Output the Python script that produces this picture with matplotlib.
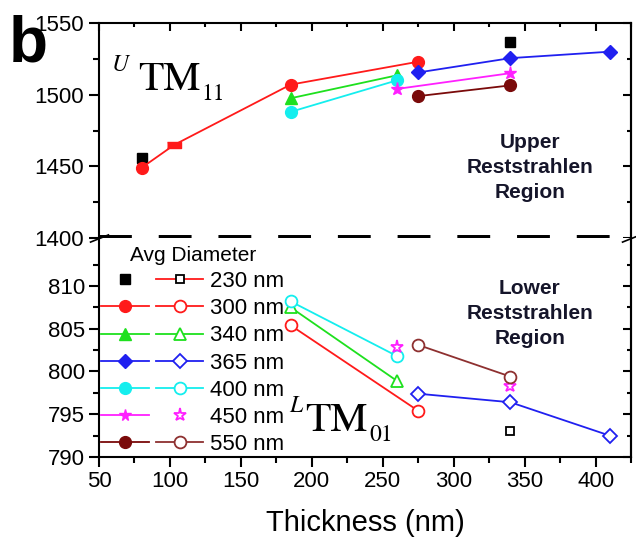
import numpy as np
import matplotlib
matplotlib.use("Agg")
import matplotlib.pyplot as plt
from matplotlib.lines import Line2D
from matplotlib.legend_handler import HandlerTuple
from matplotlib.ticker import MultipleLocator, FixedLocator

plt.rcParams['font.family'] = ['Liberation Sans', 'DejaVu Sans']

# upper Reststrahlen region (filled markers), frequency in cm-1
x_230_up = [80, 340]
y_230_up = [1456, 1537]
x_300_up = [80, 103, 185, 275]
y_300_up = [1449, 1465, 1507, 1523]
x_340_up = [185, 260]
y_340_up = [1497.5, 1513.5]
x_365_up = [275, 340, 410]
y_365_up = [1515.5, 1525.5, 1530]
x_400_up = [185, 260]
y_400_up = [1488, 1510]
x_450_up = [260, 340]
y_450_up = [1504, 1515]
x_550_up = [275, 340]
y_550_up = [1499, 1506.5]

# lower Reststrahlen region (open markers)
x_230_lo = [340]
y_230_lo = [793.0]
x_300_lo = [185, 275]
y_300_lo = [805.4, 795.4]
x_340_lo = [185, 260]
y_340_lo = [807.5, 798.9]
x_365_lo = [275, 340, 410]
y_365_lo = [797.4, 796.4, 792.5]
x_400_lo = [185, 260]
y_400_lo = [808.2, 801.8]
x_450_lo = [260, 340]
y_450_lo = [802.9, 798.3]
x_550_lo = [275, 340]
y_550_lo = [803.1, 799.4]

labels = ['230 nm', '300 nm', '340 nm', '365 nm', '400 nm', '450 nm', '550 nm']

RED = '#ff1a1a'
GREEN = '#1ee01e'
BLUE = '#2020f0'
CYAN = '#14eeee'
MAGENTA = '#ff20ff'
BROWN = '#7a0a0a'
BROWN_OPEN = '#8e3030'

fig = plt.figure(figsize=(6.36, 5.39), dpi=100)
ax_up = fig.add_axes([0.1557, 0.5584, 0.8365, 0.3989])
ax_lo = fig.add_axes([0.1557, 0.1521, 0.8365, 0.4063])

lw = 1.3
ms = 8.5

# ---- upper panel
ax_up.plot(x_230_up, y_230_up, ls='none', marker='s', ms=6.5, color='black')
ax_up.plot(x_300_up, y_300_up, color=RED, lw=lw)
ax_up.plot([x_300_up[i] for i in (0, 2, 3)], [y_300_up[i] for i in (0, 2, 3)],
           ls='none', marker='o', ms=ms, color=RED)
bar = [(-1, -0.45), (1, -0.45), (1, 0.45), (-1, 0.45)]
ax_up.plot(x_300_up[1], y_300_up[1], ls='none', marker=bar, ms=9.5, color=RED)
ax_up.plot(x_340_up, y_340_up, color=GREEN, lw=lw, marker='^', ms=ms)
ax_up.plot(x_400_up, y_400_up, color=CYAN, lw=lw, marker='o', ms=ms)
ax_up.plot(x_450_up, y_450_up, color=MAGENTA, lw=lw, marker='*', ms=ms + 1)
ax_up.plot(x_550_up, y_550_up, color=BROWN, lw=lw, marker='o', ms=ms)
ax_up.plot(x_365_up, y_365_up, color=BLUE, lw=lw, marker='D', ms=7)

# ---- lower panel
ax_lo.plot(x_230_lo, y_230_lo, ls='none', marker='s', ms=5.5, mfc='white', mec='black', mew=1.3)
ax_lo.plot(x_300_lo, y_300_lo, color=RED, lw=lw, marker='o', ms=ms, mfc='white', mew=1.3)
ax_lo.plot(x_340_lo, y_340_lo, color=GREEN, lw=lw, marker='^', ms=ms, mfc='white', mew=1.3)
ax_lo.plot(x_400_lo, y_400_lo, color=CYAN, lw=lw, marker='o', ms=ms, mfc='white', mew=1.3)
ax_lo.plot(x_450_lo, y_450_lo, ls='none', marker='*', ms=ms + 1, mfc='white', mec=MAGENTA, mew=1.3)
ax_lo.plot(x_550_lo, y_550_lo, color=BROWN_OPEN, lw=lw, marker='o', ms=ms, mfc='white', mew=1.3)
ax_lo.plot(x_365_lo, y_365_lo, color=BLUE, lw=lw, marker='D', ms=7, mfc='white', mew=1.3)

# ---- axes styling
for ax in (ax_up, ax_lo):
    ax.set_xlim(50, 425)
    for s in ax.spines.values():
        s.set_linewidth(1.5)
    ax.xaxis.set_major_locator(MultipleLocator(50))
    ax.xaxis.set_minor_locator(MultipleLocator(25))

ax_up.set_ylim(1400, 1550)
ax_up.yaxis.set_major_locator(MultipleLocator(50))
ax_up.yaxis.set_minor_locator(MultipleLocator(25))
ax_lo.set_ylim(790, 815.6)
ax_lo.yaxis.set_major_locator(FixedLocator([790, 795, 800, 805, 810]))
ax_lo.yaxis.set_minor_locator(FixedLocator([792.5, 797.5, 802.5, 807.5, 812.5]))

ax_up.spines['bottom'].set_linestyle((0, (5.5, 4.5)))
ax_up.spines['bottom'].set_linewidth(4.3)
ax_up.spines['bottom'].set_capstyle('butt')
ax_lo.spines['top'].set_visible(False)

ax_up.tick_params(axis='y', which='both', left=True, right=False, direction='out',
                  labelsize=16, width=1.5, pad=4)
ax_up.tick_params(axis='y', which='major', length=7)
ax_up.tick_params(axis='y', which='minor', length=4)
ax_up.tick_params(axis='x', which='both', top=True, bottom=False, labelbottom=False,
                  direction='in', width=1.5)
ax_up.tick_params(axis='x', which='major', length=6)
ax_up.tick_params(axis='x', which='minor', length=3)

ax_lo.tick_params(axis='both', which='both', direction='out', width=1.5, labelsize=16, pad=3)
ax_lo.tick_params(axis='both', which='major', length=7)
ax_lo.tick_params(axis='both', which='minor', length=4)

# inward ticks on the right spine
for ax in (ax_up, ax_lo):
    r = ax.secondary_yaxis('right')
    r.yaxis.set_major_locator(ax.yaxis.get_major_locator())
    r.yaxis.set_minor_locator(ax.yaxis.get_minor_locator())
    r.tick_params(axis='y', which='major', direction='in', labelright=False, width=1.5, length=6)
    r.tick_params(axis='y', which='minor', direction='in', length=3, width=1.5)
    r.spines['right'].set_linewidth(1.5)

ax_lo.set_xlabel('Thickness (nm)', fontsize=21, labelpad=12)

# break marks on both spines
for xa in (0, 1):
    ax_lo.plot([xa], [1.0], transform=ax_lo.transAxes, clip_on=False, ls='none',
               marker=[(-1, -0.4), (1, 0.4)], ms=14, mec='black', mew=1.2)

# ---- legend
filled = [
    Line2D([], [], ls='none', marker='s', ms=6.5, color='black'),
    Line2D([], [], color=RED, lw=lw, marker='o', ms=ms),
    Line2D([], [], color=GREEN, lw=lw, marker='^', ms=ms),
    Line2D([], [], color=BLUE, lw=lw, marker='D', ms=7),
    Line2D([], [], color=CYAN, lw=lw, marker='o', ms=ms),
    Line2D([], [], color=MAGENTA, lw=lw, marker='*', ms=ms),
    Line2D([], [], color=BROWN, lw=lw, marker='o', ms=ms),
]
opened = [
    Line2D([], [], color=RED, lw=lw, marker='s', ms=5.5, mfc='white', mec='black', mew=1.3),
    Line2D([], [], color=RED, lw=lw, marker='o', ms=ms, mfc='white', mew=1.3),
    Line2D([], [], color=GREEN, lw=lw, marker='^', ms=ms, mfc='white', mew=1.3),
    Line2D([], [], color=BLUE, lw=lw, marker='D', ms=7, mfc='white', mew=1.3),
    Line2D([], [], color=CYAN, lw=lw, marker='o', ms=ms, mfc='white', mew=1.3),
    Line2D([], [], ls='none', marker='*', ms=ms + 1, mfc='white', mec=MAGENTA, mew=1.3),
    Line2D([], [], color=BROWN_OPEN, lw=lw, marker='o', ms=ms, mfc='white', mew=1.3),
]
handles = list(zip(filled, opened))
ax_lo.legend(handles, labels, handler_map={tuple: HandlerTuple(ndivide=None, pad=0.3)},
             title='Avg Diameter', title_fontsize=15, fontsize=16, frameon=False,
             loc='upper left', bbox_to_anchor=(0.0, 0.975), borderaxespad=0,
             borderpad=0.1, handlelength=4.6, handletextpad=0.3, labelspacing=0.28,
             numpoints=1)

# ---- annotations
serif = 'STIXGeneral'
ax_up.text(0.073, 0.688, 'TM', transform=ax_up.transAxes, fontsize=30,
           family=serif, va='baseline', ha='left')
ax_up.annotate('U', xy=(0.073, 0.688), xycoords='axes fraction', xytext=(-7, 14),
               textcoords='offset points', fontsize=17, family=serif, style='italic',
               va='baseline', ha='right')
ax_up.annotate('11', xy=(0.073, 0.688), xycoords='axes fraction', xytext=(46, -7),
               textcoords='offset points', fontsize=17, family=serif,
               va='baseline', ha='left')

ax_lo.text(0.388, 0.118, 'TM', transform=ax_lo.transAxes, fontsize=30,
           family=serif, va='baseline', ha='left')
ax_lo.annotate('L', xy=(0.388, 0.118), xycoords='axes fraction', xytext=(-2, 14),
               textcoords='offset points', fontsize=17, family=serif, style='italic',
               va='baseline', ha='right')
ax_lo.annotate('01', xy=(0.388, 0.118), xycoords='axes fraction', xytext=(46, -7),
               textcoords='offset points', fontsize=17, family=serif,
               va='baseline', ha='left')

ax_up.text(0.81, 0.33, 'Upper\nReststrahlen\nRegion', transform=ax_up.transAxes,
           fontsize=15, fontweight='bold', color='#15152a', ha='center', va='center',
           linespacing=1.4)
ax_lo.text(0.81, 0.655, 'Lower\nReststrahlen\nRegion', transform=ax_lo.transAxes,
           fontsize=15, fontweight='bold', color='#15152a', ha='center', va='center',
           linespacing=1.4)

fig.text(0.014, 1 - 62 / 539, 'b', fontsize=46, fontweight='bold', va='baseline')

fig.savefig('out.png', dpi=100)
